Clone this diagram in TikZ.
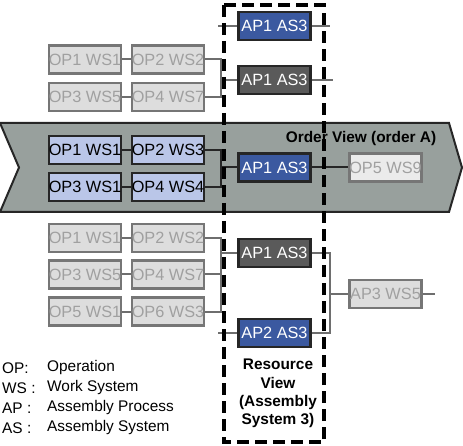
\documentclass[tikz,border=0pt]{standalone}
\usepackage{fontspec}
\setmainfont{Liberation Sans}
\definecolor{bandgray}{RGB}{152,160,157}
\definecolor{apblue}{RGB}{59,89,160}
\definecolor{apdark}{RGB}{90,90,90}
\definecolor{opblue}{RGB}{186,198,232}
\definecolor{greyfill}{RGB}{221,221,221}
\definecolor{greydraw}{RGB}{118,118,118}
\definecolor{greytext}{RGB}{160,160,160}
\definecolor{greyline}{RGB}{110,110,110}
\begin{document}
\begin{tikzpicture}[x=1pt,y=-1pt,
  box/.style={rectangle, minimum width=72pt, minimum height=28pt, inner sep=0pt, line width=2.5pt, font=\fontsize{16.3}{18}\selectfont},
  greybox/.style={box, fill=greyfill, draw=greydraw, text=greytext},
  opbox/.style={box, fill=opblue, draw=black!85, text=black},
  bluebox/.style={box, fill=apblue, draw=black!85, text=white},
  darkbox/.style={box, fill=apdark, draw=black!85, text=white},
  gline/.style={draw=greyline, line width=2pt},
  bline/.style={draw=black!85, line width=2pt},
  legend/.style={anchor=west, inner sep=0pt, font=\fontsize{15.4}{18}\selectfont},
  boldtext/.style={font=\fontsize{15.4}{18.3}\selectfont\bfseries}
]
\useasboundingbox (0,0) rectangle (463,446);

% order view band
\draw[fill=bandgray, draw=black!85, line width=2pt]
  (0,123) -- (449,123) -- (462,167.5) -- (449,212) -- (0,212) -- (19,167.5) -- cycle;
\node[boldtext, anchor=center] (ovtitle) at (361,139) {Order View (order A)};

% top grey group
\node[greybox] (t11) at (85,59.5) {OP1 WS1};
\node[greybox] (t12) at (168,59.5) {OP2 WS2};
\node[greybox] (t21) at (85,97) {OP3 WS5};
\node[greybox] (t22) at (168,97) {OP4 WS7};

% order view group
\node[opbox] (o11) at (85,150) {OP1 WS1};
\node[opbox] (o12) at (168,150) {OP2 WS3};
\node[opbox] (o21) at (85,187) {OP3 WS1};
\node[opbox] (o22) at (168,187) {OP4 WS4};

% bottom grey group
\node[greybox] (b11) at (85,238) {OP1 WS1};
\node[greybox] (b12) at (168,238) {OP2 WS2};
\node[greybox] (b21) at (85,274.5) {OP3 WS5};
\node[greybox] (b22) at (168,274.5) {OP4 WS7};
\node[greybox] (b31) at (85,311.5) {OP5 WS1};
\node[greybox] (b32) at (168,311.5) {OP6 WS3};

% AP nodes
\node[bluebox] (ap1) at (274.5,26) {AP1 AS3};
\node[darkbox] (ap2) at (274.5,80) {AP1 AS3};
\node[bluebox] (ap3) at (274.5,167.5) {AP1 AS3};
\node[darkbox] (ap4) at (274.5,253) {AP1 AS3};
\node[bluebox] (ap5) at (274.5,333) {AP2 AS3};

% right column
\node[greybox, fill=greyfill!60] (op5) at (385.5,167.5) {OP5 WS9};
\node[greybox] (ap3ws5) at (385.5,294) {AP3 WS5};

% coordinates
\coordinate (ap1l) at (218,26);
\coordinate (ap1r) at (330,26);
\coordinate (ap2r) at (333,80);
\coordinate (tj) at (221,80);
\coordinate (oj) at (221,167.5);
\coordinate (bj) at (221,253);
\coordinate (rj) at (330,294);
\coordinate (ap5l) at (218,333);
\coordinate (ap3end) at (435,294);

% top connectors
\draw[gline] (t11) -- (t12);
\draw[gline] (t21) -- (t22);
\draw[gline] (t12.east) -| (tj) |- (t22.east);
\draw[gline] (tj) -- (ap2.west);
\draw[gline] (ap2.east) -- (ap2r);
\draw[gline] (ap1l) -- (ap1.west);
\draw[gline] (ap1.east) -- (ap1r);

% order view connectors
\draw[bline] (o11) -- (o12);
\draw[bline] (o21) -- (o22);
\draw[bline] (o12.east) -| (oj) |- (o22.east);
\draw[bline] (oj) -- (ap3.west);
\draw[bline] (ap3.east) -- (op5.west);

% bottom connectors
\draw[gline] (b11) -- (b12);
\draw[gline] (b21) -- (b22);
\draw[gline] (b31) -- (b32);
\draw[gline] (b12.east) -| (bj) |- (b32.east);
\draw[gline] (b22.east) -- (b22.east -| bj);
\draw[gline] (bj) -- (ap4.west);
\draw[gline] (ap4.east) -| (rj) |- (ap5.east);
\draw[gline] (rj) -- (ap3ws5.west);
\draw[gline] (ap3ws5.east) -- (ap3end);
\draw[gline] (ap5l) -- (ap5.west);

% resource view dashed frame
\draw[line width=4pt, dash pattern=on 12pt off 6pt] (224,5) rectangle (324,442);
\node[boldtext, align=center] (rv) at (278,393.5) {Resource\\View\\(Assembly\\System 3)};

% legend
\node[legend] (l1a) at (2,368) {OP:};
\node[legend] (l1b) at (47,368) {Operation};
\node[legend] (l2a) at (2,388) {WS :};
\node[legend] (l2b) at (47,388) {Work System};
\node[legend] (l3a) at (2,408) {AP :};
\node[legend] (l3b) at (47,408) {Assembly Process};
\node[legend] (l4a) at (2,428) {AS :};
\node[legend] (l4b) at (47,428) {Assembly System};
\end{tikzpicture}
\end{document}
